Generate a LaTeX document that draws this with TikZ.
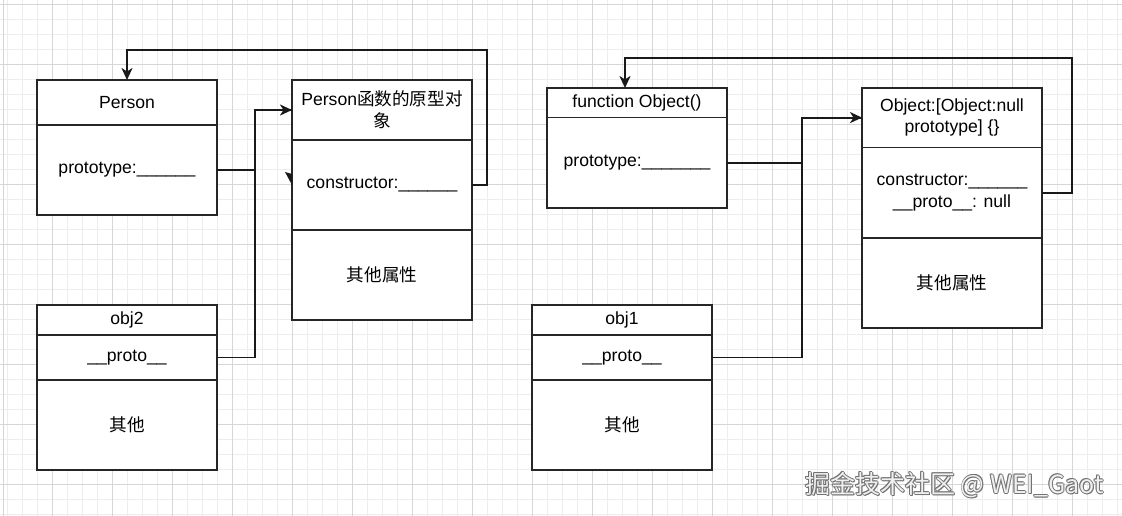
\documentclass[tikz,border=0pt]{standalone}
\usepackage{fontspec}
\setmainfont{Liberation Sans}
\newfontfamily\cjk{Noto Sans CJK SC}
\usetikzlibrary{arrows.meta}
\tikzset{
  cell/.style={draw=black!85, line width=1.8pt, fill=white, minimum width=180, inner sep=0pt, outer sep=0pt, align=center, font=\fontsize{17.6}{21.7}\selectfont},
  conn/.style={draw=black!90, line width=1.9pt},
  arr/.style={conn, -{Stealth[length=12pt, width=11pt, inset=3.5pt]}},
  minorgrid/.style={draw=black!7, line width=0.8pt},
  majorgrid/.style={draw=black!16, line width=0.8pt},
  wmark/.style={anchor=west, inner sep=0, font=\cjk\fontsize{25}{28}\selectfont},
}
\begin{document}
\begin{tikzpicture}[x=1pt, y=-1pt]
\useasboundingbox (0,0) rectangle (1122,516);
\fill[white] (0,0) rectangle (1122,516);
% grid
\foreach \i in {0,...,74} { \draw[minorgrid] (7.7+15*\i,0) -- (7.7+15*\i,516); }
\foreach \j in {0,...,34} { \draw[minorgrid] (0,4.3+15*\j) -- (1122,4.3+15*\j); }
\foreach \i in {0,...,17} { \draw[majorgrid] (52.7+60*\i,0) -- (52.7+60*\i,516); }
\foreach \j in {0,...,8} { \draw[majorgrid] (0,4.3+60*\j) -- (1122,4.3+60*\j); }
\draw[majorgrid] (3,0) -- (3,516);

% Person
\node[cell, minimum height=45] (ph) at (127,102.5) {Person};
\node[cell, minimum height=90] (pb) at (127,170) {prototype:\_\_\_\_\_\_};
% Person prototype object
\node[cell, minimum height=60] (pph) at (382,110) {Person{\cjk 函数的原型对}\\{\cjk 象}};
\node[cell, minimum height=90] (ppb) at (382,185) {constructor:\_\_\_\_\_\_};
\node[cell, minimum height=90] (ppo) at (382,275) {\cjk 其他属性};
% obj2
\node[cell, minimum height=30] (o2h) at (127,320) {obj2};
\node[cell, minimum height=45] (o2p) at (127,357.5) {\_\_proto\_\_};
\node[cell, minimum height=90] (o2o) at (127,425) {\cjk 其他};

% function Object
\node[cell, minimum height=29.5] (foh) at (637,102.75) {function Object()};
\node[cell, minimum height=90.2] (fob) at (637,162.6) {prototype:\_\_\_\_\_\_\_};
% Object prototype
\node[cell, minimum height=59.8] (oph) at (952,117.6) {Object:[Object:null\\prototype] \{\}};
\node[cell, minimum height=90.2] (opb) at (952,192.6) {constructor:\_\_\_\_\_\_\\\_\_proto\_\_: null};
\node[cell, minimum height=90] (opo) at (952,282.7) {\cjk 其他属性};
% obj1
\node[cell, minimum height=30] (o1h) at (622,320) {obj1};
\node[cell, minimum height=45] (o1p) at (622,357.5) {\_\_proto\_\_};
\node[cell, minimum height=90] (o1o) at (622,425) {\cjk 其他};

% connectors left
\draw[arr] (pb.east) -- ++(38,0) |- (pph.west);
\draw[conn] (o2p.east) -- ++(38,0) |- (pph.west);
\draw[arr] (ppb.east) -- ++(15,0) -- ++(0,-135) -| (ph.north);
\fill[black!90] (285,172) -- (292,174) -- (292,185) -- cycle;
% connectors right
\draw[arr] (fob.east) -- ++(75,0) |- (oph.west);
\draw[conn] (o1p.east) -- ++(90,0) |- (oph.west);
\draw[arr] (opb.east) -- ++(30,0) -- ++(0,-135) -| ([xshift=-12pt]foh.north);

% watermark
\foreach \dx/\dy in {0.8/0.8,-0.5/0.5,0.5/-0.5,-0.6/-0.6,1/0,0/1}
  { \node[wmark, text=black!55] at (805+\dx,485+\dy) {掘金技术社区\ @ WEI\_Gaot}; }
\node[wmark, text=black!6] (wm) at (805,485) {掘金技术社区\ @ WEI\_Gaot};
\end{tikzpicture}
\end{document}
